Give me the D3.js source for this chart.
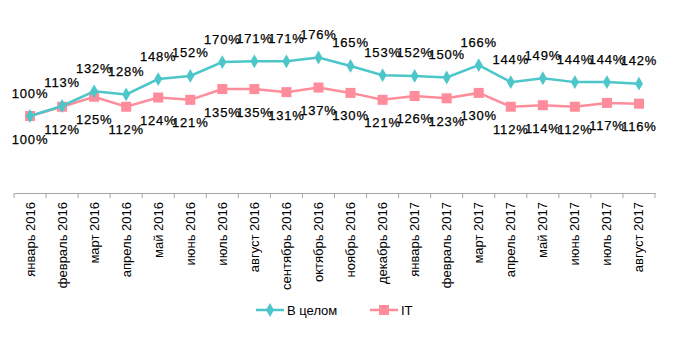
<!DOCTYPE html>
<html><head><meta charset="utf-8">
<script src="https://cdn.jsdelivr.net/npm/d3@7"></script>
<style>body{margin:0;background:#fff;}svg{display:block;}</style>
</head><body>
<svg id="c" width="680" height="339"></svg>
<script>
const categories = ["январь 2016","февраль 2016","март 2016","апрель 2016","май 2016","июнь 2016","июль 2016","август 2016","сентябрь 2016","октябрь 2016","ноябрь 2016","декабрь 2016","январь 2017","февраль 2017","март 2017","апрель 2017","май 2017","июнь 2017","июль 2017","август 2017"];
const total = [100,113,132,128,148,152,170,171,171,176,165,153,152,150,166,144,149,144,144,142];
const it = [100,112,125,112,124,121,135,135,131,137,130,121,126,123,130,112,114,112,117,116];
const seriesNames = ["В целом","IT"];
const colors = ["#4CC6C9","#FF8C9B"];

const svg = d3.select("#c");
const x = d3.scaleBand().domain(categories).range([14,655]);
const y = d3.scaleLinear().domain([0,250]).range([193,0.5]);
const cx = d => x(d) + x.bandwidth()/2;

const axisG = svg.append("g").attr("transform","translate(0,193)")
  .call(d3.axisBottom(x).tickSize(0).tickFormat(""));
axisG.select(".domain").attr("stroke","#a6a6a6").attr("stroke-width",1);
const edges = categories.map(c => x(c)).concat([655]);
svg.append("g").selectAll("line").data(edges).join("line")
  .attr("x1",d=>d).attr("x2",d=>d).attr("y1",193).attr("y2",198)
  .attr("stroke","#a6a6a6").attr("stroke-width",1);
svg.append("g").selectAll("text").data(categories).join("text")
  .attr("transform",d=>`translate(${cx(d)+4.5},202) rotate(-90)`)
  .attr("text-anchor","end")
  .attr("font-family","Liberation Sans, Arial, sans-serif")
  .attr("font-size",13).attr("fill","#000")
  .text(d=>d);

const line = d3.line().x((d,i)=>cx(categories[i])).y(d=>y(d));

function drawSeries(vals, color, marker, labelDy){
  svg.append("path").datum(vals).attr("d",line)
    .attr("fill","none").attr("stroke",color).attr("stroke-width",2.5);
  const g = svg.append("g");
  vals.forEach((v,i)=>{
    const px = cx(categories[i]), py = y(v);
    if(marker==="diamond"){
      g.append("path").attr("d",d3.symbol(d3.symbolDiamond,55)())
        .attr("transform",`translate(${px},${py})`).attr("fill",color);
    } else {
      g.append("rect").attr("x",px-5).attr("y",py-5).attr("width",10).attr("height",10).attr("fill",color);
    }
  });
  svg.append("g").selectAll("text").data(vals).join("text")
    .attr("x",(d,i)=>cx(categories[i]))
    .attr("y",d=>y(d)+labelDy)
    .attr("text-anchor","middle").attr("dominant-baseline","central")
    .attr("font-family","Liberation Sans, Arial, sans-serif")
    .attr("font-size",13).attr("letter-spacing",0.8).attr("fill","#000")
    .attr("stroke","#000").attr("stroke-width",0.25)
    .text(d=>d+"%");
}
drawSeries(it, colors[1], "square", 23);
drawSeries(total, colors[0], "diamond", -23);

const lg = svg.append("g");
lg.append("line").attr("x1",256).attr("x2",284).attr("y1",310).attr("y2",310).attr("stroke",colors[0]).attr("stroke-width",2.5);
lg.append("path").attr("d",d3.symbol(d3.symbolDiamond,55)()).attr("transform","translate(270,310)").attr("fill",colors[0]);
lg.append("text").attr("x",287).attr("y",310).attr("dominant-baseline","central")
  .attr("font-family","Liberation Sans, Arial, sans-serif").attr("font-size",13).text(seriesNames[0]);
lg.append("line").attr("x1",370).attr("x2",398).attr("y1",310).attr("y2",310).attr("stroke",colors[1]).attr("stroke-width",2.5);
lg.append("rect").attr("x",379).attr("y",305).attr("width",10).attr("height",10).attr("fill",colors[1]);
lg.append("text").attr("x",401).attr("y",310).attr("dominant-baseline","central")
  .attr("font-family","Liberation Sans, Arial, sans-serif").attr("font-size",13).text(seriesNames[1]);
</script>
</body></html>
